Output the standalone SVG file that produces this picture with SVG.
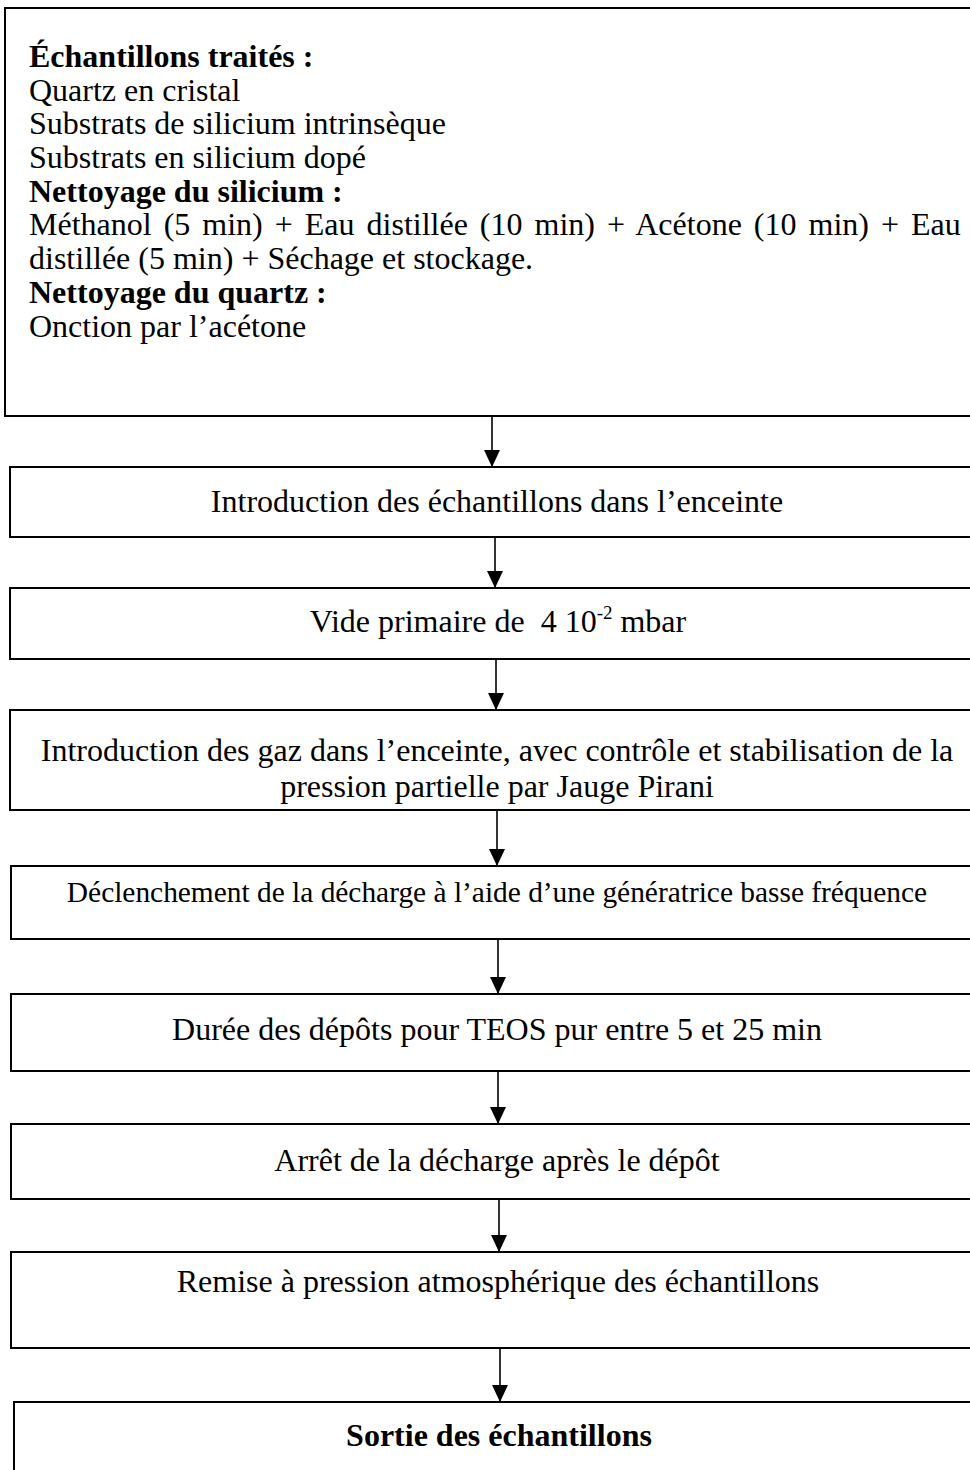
<svg xmlns="http://www.w3.org/2000/svg" width="970" height="1470" viewBox="0 0 970 1470">
<style>
.box{fill:#fff;stroke:#000;stroke-width:2}
.t{font-family:"Liberation Serif","Times New Roman",serif;font-size:32px;fill:#000}
.c{text-anchor:middle}
.b{font-weight:bold}
.s{font-size:29.4px}
.con{stroke:#000;stroke-width:1.6;fill:none}
</style>
<defs>
<marker id="ah" viewBox="0 0 17 16" refX="17" refY="8" markerWidth="17" markerHeight="16" markerUnits="userSpaceOnUse" orient="auto">
<path d="M0,0 L17,8 L0,16 Z" fill="#000"/>
</marker>
</defs>
<rect width="970" height="1470" fill="#fff"/>
<g id="n1">
<rect class="box" x="5" y="8" width="990" height="408"/>
<text class="t b" x="29" y="67">Échantillons traités :</text>
<text class="t" x="29" y="101">Quartz en cristal</text>
<text class="t" x="29" y="134">Substrats de silicium intrinsèque</text>
<text class="t" x="29" y="168">Substrats en silicium dopé</text>
<text class="t b" x="29" y="202">Nettoyage du silicium :</text>
<text class="t" x="29" y="235" word-spacing="4">Méthanol (5 min) + Eau distillée (10 min) + Acétone (10 min) + Eau</text>
<text class="t" x="29" y="269">distillée (5 min) + Séchage et stockage.</text>
<text class="t b" x="29" y="303">Nettoyage du quartz :</text>
<text class="t" x="29" y="337">Onction par l’acétone</text>
</g>
<g id="n2">
<rect class="box" x="10" y="467" width="985" height="70"/>
<text class="t c" x="497" y="512">Introduction des échantillons dans l’enceinte</text>
</g>
<g id="n3">
<rect class="box" x="10" y="588" width="985" height="71"/>
<text class="t c" x="498" y="632">Vide primaire de&#160; 4 10<tspan font-size="19" dy="-13">-2</tspan><tspan dy="13"> mbar</tspan></text>
</g>
<g id="n4">
<rect class="box" x="10" y="710" width="985" height="100"/>
<text class="t c" x="497" y="761">Introduction des gaz dans l’enceinte, avec contrôle et stabilisation de la</text>
<text class="t c" x="497" y="797">pression partielle par Jauge Pirani</text>
</g>
<g id="n5">
<rect class="box" x="11" y="866" width="985" height="73"/>
<text class="t s c" x="497" y="902">Déclenchement de la décharge à l’aide d’une génératrice basse fréquence</text>
</g>
<g id="n6">
<rect class="box" x="11" y="994" width="985" height="77"/>
<text class="t c" x="497" y="1040">Durée des dépôts pour TEOS pur entre 5 et 25 min</text>
</g>
<g id="n7">
<rect class="box" x="11" y="1124" width="985" height="75"/>
<text class="t c" x="497" y="1171">Arrêt de la décharge après le dépôt</text>
</g>
<g id="n8">
<rect class="box" x="11" y="1252" width="985" height="96"/>
<text class="t c" x="498" y="1292">Remise à pression atmosphérique des échantillons</text>
</g>
<g id="n9">
<rect class="box" x="14" y="1402" width="985" height="90"/>
<text class="t b c" x="499" y="1446">Sortie des échantillons</text>
</g>
<g id="connectors">
<line class="con" x1="492" y1="416" x2="492" y2="467" marker-end="url(#ah)"/>
<line class="con" x1="495" y1="537" x2="495" y2="588" marker-end="url(#ah)"/>
<line class="con" x1="496" y1="659" x2="496" y2="710" marker-end="url(#ah)"/>
<line class="con" x1="497" y1="810" x2="497" y2="866" marker-end="url(#ah)"/>
<line class="con" x1="498" y1="939" x2="498" y2="994" marker-end="url(#ah)"/>
<line class="con" x1="498" y1="1071" x2="498" y2="1124" marker-end="url(#ah)"/>
<line class="con" x1="499" y1="1199" x2="499" y2="1252" marker-end="url(#ah)"/>
<line class="con" x1="500" y1="1348" x2="500" y2="1402" marker-end="url(#ah)"/>
</g>
</svg>
